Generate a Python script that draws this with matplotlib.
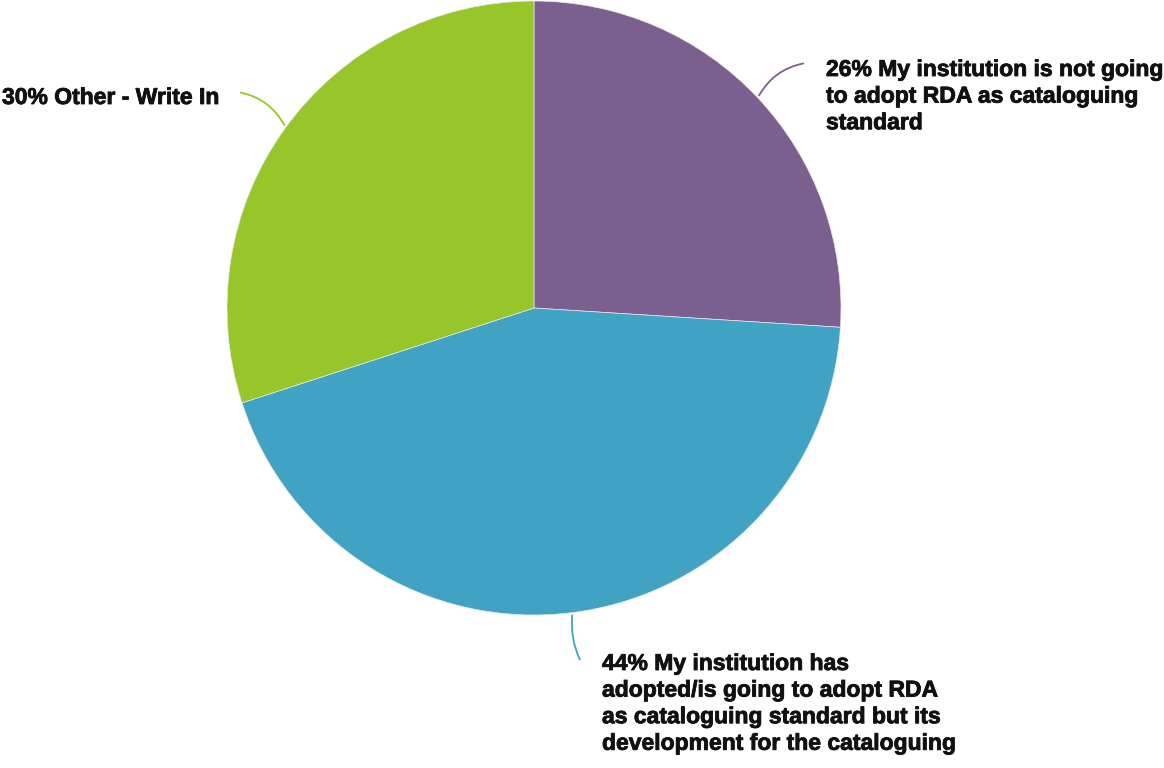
import matplotlib.pyplot as plt
import matplotlib.patheffects as pe
import numpy as np

# data
labels = ['My institution is not going\nto adopt RDA as cataloguing\nstandard',
          'My institution has\nadopted/is going to adopt RDA\nas cataloguing standard but its\ndevelopment for the cataloguing',
          'Other - Write In']
shares = [26, 44, 30]
colors = ['#7b5f8f', '#41a3c4', '#97c62a']

plt.rcParams['font.family'] = ['Liberation Sans', 'DejaVu Sans']

W, H = 1164, 768
fig = plt.figure(figsize=(W / 100, H / 100), dpi=100)
ax = fig.add_axes([0, 0, 1, 1])

cx, cy, r = 534, H - 308, 307
wedges, _ = ax.pie(shares, colors=colors, startangle=90, counterclock=False,
                   center=(cx, cy), radius=r, frame=True,
                   wedgeprops=dict(edgecolor='#e8e8e8', linewidth=0.5))
ax.set_xlim(0, W)
ax.set_ylim(0, H)
ax.set_aspect('equal')
ax.axis('off')

# label line end points and text positions (pixel coords, y from top)
line_ends = [(806, 63), (581, 662), (238, 92)]
text_pos = [(826, 58), (602, 652), (2, 86)]
rads = [-0.25, 0.15, 0.25]

for w, s, lab, c, le, tp, rad in zip(wedges, shares, labels, colors, line_ends, text_pos, rads):
    ang = np.deg2rad((w.theta1 + w.theta2) / 2)
    x0 = cx + r * np.cos(ang)
    y0 = cy + r * np.sin(ang)
    ax.annotate('', xy=(le[0], H - le[1]), xytext=(x0, y0),
                arrowprops=dict(arrowstyle='-', color=c, lw=1.3,
                                connectionstyle=f'arc3,rad={rad}'))
    ax.text(tp[0], H - tp[1], f'{s}% {lab}', ha='left', va='top',
            fontsize=16.5, fontweight='bold', color='#111111', linespacing=1.2,
            path_effects=[pe.withStroke(linewidth=0.6, foreground='#111111')])

fig.savefig('out.png', dpi=100)
